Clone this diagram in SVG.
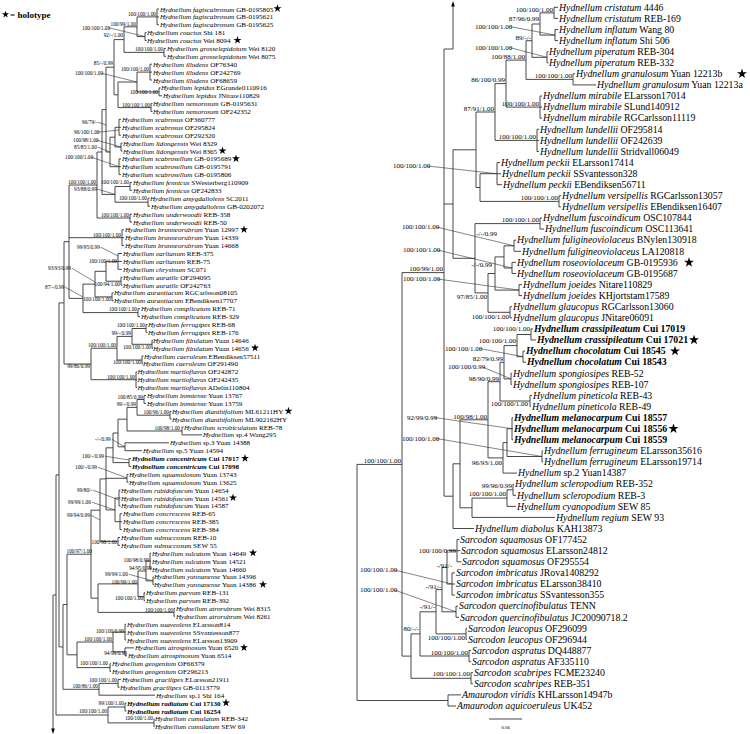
<svg xmlns="http://www.w3.org/2000/svg" xmlns:xlink="http://www.w3.org/1999/xlink" width="750" height="734" viewBox="0 0 750 734">
<style>
text{font-family:"Liberation Serif","Times New Roman",serif;fill:#000}
.tl{font-size:7.1px}
.tr{font-size:9.8px}
.i{font-style:italic}
.b{font-weight:bold}
.sl{font-size:5.3px;text-anchor:end}
.sls{font-size:5.3px}
.sr{font-size:7px;text-anchor:end}
.srs{font-size:7px}
.br{fill:none;stroke:#333;stroke-width:0.9}
.ld{fill:none;stroke:#333;stroke-width:0.6}
.st{fill:#000}
</style>
<defs>
<polygon id="star" points="0,-5 1.12,-1.55 4.76,-1.55 1.82,0.59 2.94,4.05 0,1.91 -2.94,4.05 -1.82,0.59 -4.76,-1.55 -1.12,-1.55"/>
</defs>
<rect width="750" height="734" fill="#fff"/>
<g id="legend">
<use xlink:href="#star" class="st" transform="translate(5.5 14.5) scale(0.75)"/>
<text x="10" y="17.5" class="b" font-size="9">= holotype</text>
</g>
<g id="connectors">
<path class="br" d="M157 9V24.8M157 9H159M157 16.9H159M157 24.8H159M145 32.7V40.5M145 32.7H146.5M145 40.5H146.5M137 16.9V36.6M137 16.9H157M137 36.6H145M164 48.4V56.3M164 48.4H166M164 56.3H166M124 26.8V52.4M124 26.8H137M124 52.4H164M150 64.2V80M150 64.2H152M150 72.1H152M150 80H152M159 87.9V95.8M159 87.9H160.5M159 95.8H162M137 72.1V91.9M137 72.1H150M137 91.9H159M151 103.6V111.5M151 103.6H152.5M151 111.5H152.5M118 82V107.6M118 82H137M118 107.6H151M114 39.6V94.8M114 39.6H124M114 94.8H118M119 119.4V135.2M119 119.4H121M119 127.3H121M119 135.2H121M121 143.1V151M121 143.1H122.5M121 151H122.5M115 127.3V147M115 127.3H119M115 147H121M119 158.9V174.6M119 158.9H121M119 166.7H121M119 174.6H121M110 137.2V166.7M110 137.2H115M110 166.7H119M106 67.2V152M106 67.2H114M106 152H110M130 182.5V190.4M130 182.5H132M130 190.4H132M148 198.3V206.2M148 198.3H149.5M148 206.2H150M115 186.5V202.2M115 186.5H130M115 202.2H148M102 109.6V194.4M102 109.6H106M102 194.4H115M130 214.1V222M130 214.1H132M130 222H132M97 152V218M97 152H102M97 218H130M122 229.8V245.6M122 229.8H124M122 237.7H124M122 245.6H124M118 253.5V269.3M118 253.5H122M118 261.4H122M118 269.3H122M121 277.2V285.1M121 277.2H122.5M121 285.1H122.5M106 261.4V281.2M106 261.4H118M106 281.2H121M112 292.9V300.8M112 292.9H113.5M112 300.8H113.5M95 271.3V296.9M95 271.3H106M95 296.9H112M138 308.7V316.6M138 308.7H140M138 316.6H140M83 284.1V312.6M83 284.1H95M83 312.6H138M69 185V298.4M69 185H97M69 237.7H122M69 298.4H83M146 324.5V332.4M146 324.5H147.5M146 332.4H147.5M152 340.3V348.2M152 340.3H153M152 348.2H153M132 328.5V344.3M132 328.5H146M132 344.3H152M142 356V363.9M142 356H143.5M142 363.9H143M117 336.4V360M117 336.4H132M117 360H142M136 371.8V387.6M136 371.8H137M136 379.7H137M136 387.6H137M91 348.2V379.7M91 348.2H117M91 379.7H136M64 241.7V364M64 241.7H69M64 364H91"/>
<path class="br" d="M144 395.5V403.4M144 395.5H146M144 403.4H146M170 411.3V419.1M170 411.3H171.5M170 419.1H171.5M137 399.5V415.2M137 399.5H144M137 415.2H170M182 427V434.9M182 427H183.5M182 434.9H202M127 407.4V431M127 407.4H137M127 431H182M125 442.8V450.7M125 442.8H169M125 450.7H142M118 419.2V446.8M118 419.2H127M118 446.8H125M129 458.6V466.5M129 458.6H131M129 466.5H131M113 433V462.6M113 433H118M113 462.6H129M127 474.4V482.2M127 474.4H128.5M127 482.2H128.5M119 490.1V505.9M119 490.1H120.5M119 498H120.5M119 505.9H120.5M120 513.8V529.6M120 513.8H122M120 521.7H122M120 529.6H122M115 498V521.7M115 498H119M115 521.7H120M106 447.8V509.9M106 447.8H113M106 478.3H127M106 509.9H115M118 537.5V545.3M118 537.5H120M118 545.3H120M100 478.9V541.4M100 478.9H106M100 541.4H118M150 553.2V569M150 553.2H151M150 561.1H151M150 569H151M153 576.9V584.8M153 576.9H153.8M153 584.8H153.8M146 561.1V580.9M146 561.1H150M146 580.9H153M144 592.7V600.6M144 592.7H145M144 600.6H145M138 571V596.7M138 571H146M138 596.7H144M174 608.4V616.3M174 608.4H175M174 616.3H175M98 583.9V612.4M98 583.9H138M98 612.4H174M91 510.2V598.2M91 510.2H100M91 598.2H98M125 624.2V640M125 624.2H126M125 632.1H126M125 640H126M125 647.9V655.8M125 647.9H134M125 655.8H127M113 632.1V651.9M113 632.1H125M113 651.9H125M110 663.7V671.5M110 663.7H111M110 671.5H111M77 642V667.6M77 642H113M77 667.6H110M67 554.2V654.8M67 554.2H91M67 654.8H77M118 679.4V687.3M118 679.4H121M118 687.3H119.5M99 683.4V695.2M99 683.4H118M99 695.2H155M63 604.5V689.3M63 604.5H67M63 689.3H99M125 703.1V711M125 703.1H126.5M125 711H126.5M154 718.9V726.8M154 718.9H154.5M154 726.8H154.5M108 707V722.9M108 707H125M108 722.9H154M59 302.9V646.9M59 302.9H64M59 646.9H63M56 474.9V715M56 474.9H59M56 715H108M56 595H53V729"/>
<polygon class="st" points="53,734 51.2,728.5 54.8,728.5"/>
<path class="br" d="M554 7.3V18.4M554 7.3H558M554 18.4H558M555 29.5V40.6M555 29.5H558M555 40.6H558M540 12.9V35.1M540 12.9H554M540 35.1H555M547 51.7V62.8M547 51.7H548.5M547 62.8H548.5M532 24V57.3M532 24H540M532 57.3H547M573 73.8V84.9M573 73.8H575M573 84.9H596M526 40.7V79.4M526 40.7H532M526 79.4H573M540 96V118.2M540 96H542M540 107.1H542M540 118.2H542M506 60.1V107.1M506 60.1H526M506 107.1H540M537 129.3V151.5M537 129.3H539M537 140.4H539M537 151.5H539M495 83.6V140.4M495 83.6H506M495 140.4H537M497 162.6V184.7M497 162.6H500M497 173.7H501M497 184.7H502M559 195.8V206.9M559 195.8H561M559 206.9H561M480 173.7V201.4M480 173.7H497M480 201.4H559M476 112V187.5M476 112H495M476 187.5H480M540 218V229.1M540 218H542M540 229.1H544M514 240.2V251.3M514 240.2H516M514 251.3H521M512 262.4V273.5M512 262.4H516M512 273.5H516M504 245.8V268M504 245.8H514M504 268H512M519 284.6V295.6M519 284.6H522M519 295.6H522M495 256.9V290.1M495 256.9H504M495 290.1H519M510 306.7V317.8M510 306.7H512M510 317.8H512M488 273.5V312.3M488 273.5H495M488 312.3H510M475 223.6V292.9M475 223.6H540M475 292.9H488M453 149.8V258.3M453 149.8H476M453 258.3H475"/>
<path class="br" d="M531 328.9V340M531 328.9H533M531 340H536M523 351.1V362.2M523 351.1H525M523 362.2H526M517 334.5V356.7M517 334.5H531M517 356.7H523M511 373.3V384.4M511 373.3H512M511 384.4H512M504 345.6V378.9M504 345.6H517M504 378.9H511M530 395.5V406.5M530 395.5H532M530 406.5H531M500 362.3V401M500 362.3H504M500 401H530M512 417.6V439.8M512 417.6H513M512 428.7H513M512 439.8H513M542 450.9V462M542 450.9H543M542 462H543M507 428.7V456.5M507 428.7H512M507 456.5H542M503 442.6V473.1M503 442.6H507M503 473.1H517M488 381.7V457.9M488 381.7H500M488 457.9H503M513 484.2V495.3M513 484.2H514M513 495.3H516M507 489.8V506.4M507 489.8H513M507 506.4H516M472 498.1V517.4M472 498.1H507M472 517.4H555M460 419.8V507.8M460 419.8H488M460 507.8H472M453 463.8V528.5M453 463.8H460M453 528.5H474M444 49V496.2M444 49H453M444 204H453M444 496.2H453M453 49V6"/>
<polygon class="st" points="453,1 451.2,6.5 454.8,6.5"/>
<path class="br" d="M457 539.6V561.8M457 539.6H459.5M457 550.7H460.5M457 561.8H461.5M452 572.9V595.1M452 572.9H455M452 584H455M452 595.1H455M447 550.7V584M447 550.7H457M447 584H452M456 606.2V617.3M456 606.2H458M456 617.3H459M442 567.4V611.8M442 567.4H447M442 611.8H456M466 628.3V639.4M466 628.3H467M466 639.4H467M436 589.6V633.9M436 589.6H442M436 633.9H466M469 650.5V661.6M469 650.5H471M469 661.6H471M420 611.8V656M420 611.8H436M420 656H469M471 672.7V683.8M471 672.7H473M471 683.8H473M411 633.9V678.3M411 633.9H420M411 678.3H471M402 272.6V656.1M402 272.6H444M402 656.1H411M448 694.9V706M448 694.9H461M448 706H456M357 464.4V700.5M357 464.4H402M357 700.5H448M489 719H522"/>
<path class="ld" d="M108.5 27.7L145 36.6M101.5 73.2L137 82M97.8 132.2L119 130M98 122.2L106 125M96.8 140.2L121 147M97.8 147.2L110 152M91.5 157.2L119 166.7M97.8 189.2L115 194.4M100.8 247.2L118 256M71.8 268.2L95 282M65.3 287.2L83 297M111.8 439.2L125 447M105 456.2L129 460M98 467.2L127 478M93.3 490.2L119 500M91.8 502.2L115 510M90.8 515.2L100 520M128.8 574.2L153 580.9"/>
<path class="ld" d="M509.5 26.5L555 35.1M509.5 47.5L547 57.3M427.5 166L497 173.7M436.5 227L514 245.8M437.5 250L512 268M437.5 279L519 290.1M479.5 348.5L523 356.7M482.5 367L511 378.9M434.5 417.5L512 428.7M436.5 438.5L542 456.5M394.5 570L452 584M394.5 590L456 611.8"/>
</g>
<g id="support-left">
<text class="sl" x="156" y="15.6">100/100/1.00</text>
<text class="sls" x="82" y="29.5">100/100/1.00</text>
<text class="sl" x="136" y="25.8">100/99/1.00</text>
<text class="sl" x="163" y="51.4">100/100/1.00</text>
<text class="sl" x="123" y="37">92/-/1.00</text>
<text class="sl" x="149" y="71.1">100/100/1.00</text>
<text class="sl" x="158" y="93.5">100/100/1.00</text>
<text class="sls" x="75" y="75">100/100/1.00</text>
<text class="sl" x="150" y="106.6">100/100/1.00</text>
<text class="sl" x="113" y="65">85/-/0.99</text>
<text class="sls" x="74" y="134">96/100/1.00</text>
<text class="sls" x="82" y="124">96/79/-</text>
<text class="sls" x="73" y="142">100/98/1.00</text>
<text class="sls" x="74" y="149">85/85/1.00</text>
<text class="sls" x="65" y="159">100/100/1.00</text>
<text class="sl" x="129" y="184">100/100/1.00</text>
<text class="sl" x="96" y="184">100/100/1.00</text>
<text class="sls" x="74" y="191">93/88/0.99</text>
<text class="sl" x="147" y="200">100/100/1.00</text>
<text class="sl" x="129" y="216.5">100/100/1.00</text>
<text class="sl" x="121" y="236.5">100/100/1.00</text>
<text class="sls" x="77" y="249">99/95/0.99</text>
<text class="sl" x="117" y="263">100/100/1.00</text>
<text class="sl" x="120" y="285.5">100/94/1.00</text>
<text class="sls" x="48" y="270">93/93/0.99</text>
<text class="sl" x="111" y="301">100/100/1.00</text>
<text class="sls" x="45" y="289">87/-/0.99</text>
<text class="sl" x="137" y="311">100/100/1.00</text>
<text class="sl" x="145" y="327">100/100/1.00</text>
<text class="sl" x="131" y="335">99/-/0.99</text>
<text class="sl" x="151" y="349">100/100/1.00</text>
<text class="sl" x="116" y="347">100/100/1.00</text>
<text class="sl" x="141" y="364">100/100/1.00</text>
<text class="sl" x="90" y="368">99/86/0.99</text>
<text class="sl" x="135" y="379">100/100/1.00</text>
<text class="sl" x="143" y="399">100/85/0.99</text>
<text class="sl" x="136" y="406">99/-/0.99</text>
<text class="sl" x="169" y="414">100/96/1.00</text>
<text class="sl" x="180" y="430">100/98/1.00</text>
<text class="sls" x="95" y="441">-/-/0.99</text>
<text class="sls" x="82" y="458">100/-/0.99</text>
<text class="sls" x="75" y="469">100/-/0.99</text>
<text class="sls" x="77" y="492">99/80/-</text>
<text class="sls" x="68" y="504">99/99/1.00</text>
<text class="sls" x="67" y="517">99/94/0.99</text>
<text class="sl" x="117" y="544">100/98/1.00</text>
<text class="sl" x="92" y="553">100/97/1.00</text>
<text class="sl" x="149" y="562">100/98/0.99</text>
<text class="sl" x="152" y="570">94/95/0.99</text>
<text class="sls" x="105" y="576">99/99/1.00</text>
<text class="sl" x="137" y="584">100/99/1.00</text>
<text class="sl" x="143" y="600">100/100/1.00</text>
<text class="sl" x="173" y="612">100/100/1.00</text>
<text class="sl" x="124" y="633">100/100/0.99</text>
<text class="sl" x="112" y="641">100/100/1.00</text>
<text class="sl" x="127" y="655">94/99/0.99</text>
<text class="sl" x="108" y="665">100/100/1.00</text>
<text class="sl" x="117" y="682">100/100/1.00</text>
<text class="sl" x="98" y="688">100/86/1.00</text>
<text class="sl" x="124" y="705">99/100/1.00</text>
<text class="sl" x="107" y="713">100/100/1.00</text>
<text class="sl" x="153" y="720">100/100/1.00</text>
</g>
<g id="support-right">
<text class="sr" x="553" y="11.7">100/100/1.00</text>
<text class="srs" x="475" y="28.5">100/100/1.00</text>
<text class="sr" x="539" y="21.3">87/96/0.99</text>
<text class="srs" x="475" y="49.5">100/100/1.00</text>
<text class="sr" x="531" y="39.5">89/-/-</text>
<text class="sr" x="525" y="59">100/88/1.00</text>
<text class="sr" x="572" y="78.2">100/100/1.00</text>
<text class="sr" x="505" y="82.4">86/100/0.99</text>
<text class="sr" x="539" y="106">100/100/1.00</text>
<text class="sr" x="494" y="110.8">87/91/1.00</text>
<text class="sr" x="536" y="139.2">100/100/1.00</text>
<text class="srs" x="393" y="168">100/100/1.00</text>
<text class="sr" x="558" y="200.2">100/100/1.00</text>
<text class="sr" x="539" y="222.4">100/100/1.00</text>
<text class="sr" x="497" y="235.5">-/-/0.99</text>
<text class="srs" x="402" y="229">100/100/1.00</text>
<text class="srs" x="403" y="252">100/100/1.00</text>
<text class="sr" x="492" y="267">-/-/0.99</text>
<text class="sr" x="443" y="271.4">100/99/1.00</text>
<text class="srs" x="403" y="281">100/100/1.00</text>
<text class="sr" x="487" y="298.5">97/85/1.00</text>
<text class="sr" x="509" y="318.5">100/100/1.00</text>
<text class="sr" x="530" y="331">100/100/1.00</text>
<text class="sr" x="516" y="343">100/100/1.00</text>
<text class="srs" x="445" y="350.5">100/100/1.00</text>
<text class="sr" x="503" y="361">82/79/0.99</text>
<text class="srs" x="448" y="369">100/100/0.99</text>
<text class="sr" x="499" y="380.5">98/90/0.99</text>
<text class="sr" x="528" y="405.5">100/100/1.00</text>
<text class="sr" x="487" y="418.5">100/98/1.00</text>
<text class="srs" x="407" y="419.5">92/99/0.99</text>
<text class="srs" x="402" y="440.5">100/100/1.00</text>
<text class="sr" x="502" y="464.5">96/93/1.00</text>
<text class="sr" x="401" y="463">100/100/1.00</text>
<text class="sr" x="512" y="487.5">99/96/0.99</text>
<text class="sr" x="506" y="495.5">100/100/1.00</text>
<text class="sr" x="456" y="552.5">100/100/0.99</text>
<text class="sr" x="452" y="568">-/91/-</text>
<text class="srs" x="360" y="572">100/100/1.00</text>
<text class="sr" x="441" y="589">-/91/-</text>
<text class="srs" x="360" y="592">100/100/1.00</text>
<text class="sr" x="435" y="609">-/91/-</text>
<text class="sr" x="419" y="631">80/-/-</text>
<text class="sr" x="465" y="639.5">100/100/1.00</text>
<text class="sr" x="468" y="654.5">100/100/1.00</text>
<text class="sr" x="470" y="676">100/100/1.00</text>
<text x="505.5" y="729" font-size="5" text-anchor="middle">0.06</text>
</g>
<g id="l1"><text class="tl" x="160" y="11.5"><tspan class="i">Hydnellum fagiscabrosum</tspan> GB-0195805</text><use xlink:href="#star" class="st" transform="translate(277.5 8.5) scale(0.84)"/></g>
<g id="l2"><text class="tl" x="160" y="19.4"><tspan class="i">Hydnellum fagiscabrosum</tspan> GB-0195621</text></g>
<g id="l3"><text class="tl" x="160" y="27.3"><tspan class="i">Hydnellum fagiscabrosum</tspan> GB-0195625</text></g>
<g id="l4"><text class="tl" x="147" y="35.2"><tspan class="i">Hydnellum coactus</tspan> Shi 181</text></g>
<g id="l5"><text class="tl" x="147" y="43"><tspan class="i">Hydnellum coactus</tspan> Wei 8094</text><use xlink:href="#star" class="st" transform="translate(237.5 40.2) scale(0.84)"/></g>
<g id="l6"><text class="tl" x="167" y="50.9"><tspan class="i">Hydnellum grosselepidotum</tspan> Wei 8120</text></g>
<g id="l7"><text class="tl" x="167" y="58.8"><tspan class="i">Hydnellum grosselepidotum</tspan> Wei 8075</text></g>
<g id="l8"><text class="tl" x="153" y="66.7"><tspan class="i">Hydnellum illudens</tspan> OF76340</text></g>
<g id="l9"><text class="tl" x="153" y="74.6"><tspan class="i">Hydnellum illudens</tspan> OF242769</text></g>
<g id="l10"><text class="tl" x="153" y="82.5"><tspan class="i">Hydnellum illudens</tspan> OF68659</text></g>
<g id="l11"><text class="tl" x="161" y="90.4"><tspan class="i">Hydnellum lepidus</tspan> EGrundell110916</text></g>
<g id="l12"><text class="tl" x="163" y="98.3"><tspan class="i">Hydnellum lepidus</tspan> JNitare110829</text></g>
<g id="l13"><text class="tl" x="153" y="106.1"><tspan class="i">Hydnellum nemorosum</tspan> GB-0195631</text></g>
<g id="l14"><text class="tl" x="153" y="114"><tspan class="i">Hydnellum nemorosum</tspan> OF242352</text></g>
<g id="l15"><text class="tl" x="122" y="121.9"><tspan class="i">Hydnellum scabrosus</tspan> OF360777</text></g>
<g id="l16"><text class="tl" x="122" y="129.8"><tspan class="i">Hydnellum scabrosus</tspan> OF295824</text></g>
<g id="l17"><text class="tl" x="122" y="137.7"><tspan class="i">Hydnellum scabrosus</tspan> OF292320</text></g>
<g id="l18"><text class="tl" x="123" y="145.6"><tspan class="i">Hydnellum lidongensis</tspan> Wei 8329</text></g>
<g id="l19"><text class="tl" x="123" y="153.5"><tspan class="i">Hydnellum lidongensis</tspan> Wei 8365</text><use xlink:href="#star" class="st" transform="translate(222.5 150.7) scale(0.84)"/></g>
<g id="l20"><text class="tl" x="122" y="161.4"><tspan class="i">Hydnellum scabrosellum</tspan> GB-0195689</text><use xlink:href="#star" class="st" transform="translate(236 158.6) scale(0.84)"/></g>
<g id="l21"><text class="tl" x="122" y="169.2"><tspan class="i">Hydnellum scabrosellum</tspan> GB-0195791</text></g>
<g id="l22"><text class="tl" x="122" y="177.1"><tspan class="i">Hydnellum scabrosellum</tspan> GB-0195806</text></g>
<g id="l23"><text class="tl" x="133" y="185"><tspan class="i">Hydnellum fennicus</tspan> SWesterberg110909</text></g>
<g id="l24"><text class="tl" x="133" y="192.9"><tspan class="i">Hydnellum fennicus</tspan> OF242833</text></g>
<g id="l25"><text class="tl" x="150" y="200.8"><tspan class="i">Hydnellum amygdaliolens</tspan> SC2011</text></g>
<g id="l26"><text class="tl" x="151" y="208.7"><tspan class="i">Hydnellum amygdaliolens</tspan> GB-0202072</text></g>
<g id="l27"><text class="tl" x="133" y="216.6"><tspan class="i">Hydnellum underwoodii</tspan> REB-358</text></g>
<g id="l28"><text class="tl" x="133" y="224.5"><tspan class="i">Hydnellum underwoodii</tspan> REB-50</text></g>
<g id="l29"><text class="tl" x="125" y="232.3"><tspan class="i">Hydnellum brunneorubrum</tspan> Yuan 12997</text><use xlink:href="#star" class="st" transform="translate(244 229.5) scale(0.84)"/></g>
<g id="l30"><text class="tl" x="125" y="240.2"><tspan class="i">Hydnellum brunneorubrum</tspan> Yuan 14339</text></g>
<g id="l31"><text class="tl" x="125" y="248.1"><tspan class="i">Hydnellum brunneorubrum</tspan> Yuan 14668</text></g>
<g id="l32"><text class="tl" x="123" y="256"><tspan class="i">Hydnellum earlianum</tspan> REB-375</text></g>
<g id="l33"><text class="tl" x="123" y="263.9"><tspan class="i">Hydnellum earlianum</tspan> REB-75</text></g>
<g id="l34"><text class="tl" x="123" y="271.8"><tspan class="i">Hydnellum chrysinum</tspan> SC071</text></g>
<g id="l35"><text class="tl" x="123" y="279.7"><tspan class="i">Hydnellum auratile</tspan> OF294095</text></g>
<g id="l36"><text class="tl" x="123" y="287.6"><tspan class="i">Hydnellum auratile</tspan> OF242763</text></g>
<g id="l37"><text class="tl" x="114" y="295.4"><tspan class="i">Hydnellum aurantiacum</tspan> RGCarlsson08105</text></g>
<g id="l38"><text class="tl" x="114" y="303.3"><tspan class="i">Hydnellum aurantiacum</tspan> EBendiksen17707</text></g>
<g id="l39"><text class="tl" x="141" y="311.2"><tspan class="i">Hydnellum complicatum</tspan> REB-71</text></g>
<g id="l40"><text class="tl" x="141" y="319.1"><tspan class="i">Hydnellum complicatum</tspan> REB-329</text></g>
<g id="l41"><text class="tl" x="148" y="327"><tspan class="i">Hydnellum ferrugipes</tspan> REB-68</text></g>
<g id="l42"><text class="tl" x="148" y="334.9"><tspan class="i">Hydnellum ferrugipes</tspan> REB-176</text></g>
<g id="l43"><text class="tl" x="153" y="342.8"><tspan class="i">Hydnellum fibulatum</tspan> Yuan 14646</text></g>
<g id="l44"><text class="tl" x="153" y="350.7"><tspan class="i">Hydnellum fibulatum</tspan> Yuan 14656</text><use xlink:href="#star" class="st" transform="translate(255 347.9) scale(0.84)"/></g>
<g id="l45"><text class="tl" x="144" y="358.5"><tspan class="i">Hydnellum caeruleum</tspan> EBendiksen57511</text></g>
<g id="l46"><text class="tl" x="143" y="366.4"><tspan class="i">Hydnellum caeruleum</tspan> OF291490</text></g>
<g id="l47"><text class="tl" x="137.5" y="374.3"><tspan class="i">Hydnellum martioflavus</tspan> OF242872</text></g>
<g id="l48"><text class="tl" x="137.5" y="382.2"><tspan class="i">Hydnellum martioflavus</tspan> OF242435</text></g>
<g id="l49"><text class="tl" x="137.5" y="390.1"><tspan class="i">Hydnellum martioflavus</tspan> ADelin110804</text></g>
<g id="l50"><text class="tl" x="147" y="398"><tspan class="i">Hydnellum bomiense</tspan> Yuan 13767</text></g>
<g id="l51"><text class="tl" x="147" y="405.9"><tspan class="i">Hydnellum bomiense</tspan> Yuan 13759</text></g>
<g id="l52"><text class="tl" x="172" y="413.8"><tspan class="i">Hydnellum dianthifolium</tspan> ML61211HY</text><use xlink:href="#star" class="st" transform="translate(288.5 411) scale(0.84)"/></g>
<g id="l53"><text class="tl" x="172" y="421.6"><tspan class="i">Hydnellum dianthifolium</tspan> ML902162HY</text></g>
<g id="l54"><text class="tl" x="184" y="429.5"><tspan class="i">Hydnellum scrobiculatum</tspan> REB-78</text></g>
<g id="l55"><text class="tl" x="203" y="437.4"><tspan class="i">Hydnellum</tspan> sp.4 Wang295</text></g>
<g id="l56"><text class="tl" x="170" y="445.3"><tspan class="i">Hydnellum</tspan> sp.3 Yuan 14388</text></g>
<g id="l57"><text class="tl" x="143" y="453.2"><tspan class="i">Hydnellum</tspan> sp.5 Yuan 14594</text></g>
<g id="l58"><text class="tl b" x="132" y="461.1"><tspan class="i">Hydnellum concentricum</tspan> Cui 17017</text><use xlink:href="#star" class="st" transform="translate(245 458.3) scale(0.84)"/></g>
<g id="l59"><text class="tl b" x="132" y="469"><tspan class="i">Hydnellum concentricum</tspan> Cui 17098</text></g>
<g id="l60"><text class="tl" x="129" y="476.9"><tspan class="i">Hydnellum squamulosum</tspan> Yuan 13743</text></g>
<g id="l61"><text class="tl" x="129" y="484.7"><tspan class="i">Hydnellum squamulosum</tspan> Yuan 13625</text></g>
<g id="l62"><text class="tl" x="121" y="492.6"><tspan class="i">Hydnellum rubidofuscum</tspan> Yuan 14654</text></g>
<g id="l63"><text class="tl" x="121" y="500.5"><tspan class="i">Hydnellum rubidofuscum</tspan> Yuan 14561</text><use xlink:href="#star" class="st" transform="translate(233 497.7) scale(0.84)"/></g>
<g id="l64"><text class="tl" x="121" y="508.4"><tspan class="i">Hydnellum rubidofuscum</tspan> Yuan 14587</text></g>
<g id="l65"><text class="tl" x="123" y="516.3"><tspan class="i">Hydnellum concrescens</tspan> REB-65</text></g>
<g id="l66"><text class="tl" x="123" y="524.2"><tspan class="i">Hydnellum concrescens</tspan> REB-385</text></g>
<g id="l67"><text class="tl" x="123" y="532.1"><tspan class="i">Hydnellum concrescens</tspan> REB-384</text></g>
<g id="l68"><text class="tl" x="121" y="540"><tspan class="i">Hydnellum subsuccosum</tspan> REB-10</text></g>
<g id="l69"><text class="tl" x="121" y="547.8"><tspan class="i">Hydnellum subsuccosum</tspan> SEW 55</text></g>
<g id="l70"><text class="tl" x="152" y="555.7"><tspan class="i">Hydnellum sulcatum</tspan> Yuan 14649</text><use xlink:href="#star" class="st" transform="translate(253 552.9) scale(0.84)"/></g>
<g id="l71"><text class="tl" x="152" y="563.6"><tspan class="i">Hydnellum sulcatum</tspan> Yuan 14521</text></g>
<g id="l72"><text class="tl" x="152" y="571.5"><tspan class="i">Hydnellum sulcatum</tspan> Yuan 14660</text></g>
<g id="l73"><text class="tl" x="154" y="579.4"><tspan class="i">Hydnellum yunnanense</tspan> Yuan 14396</text></g>
<g id="l74"><text class="tl" x="154" y="587.3"><tspan class="i">Hydnellum yunnanense</tspan> Yuan 14386</text><use xlink:href="#star" class="st" transform="translate(263 584.5) scale(0.84)"/></g>
<g id="l75"><text class="tl" x="146" y="595.2"><tspan class="i">Hydnellum parvum</tspan> REB-131</text></g>
<g id="l76"><text class="tl" x="146" y="603.1"><tspan class="i">Hydnellum parvum</tspan> REB-392</text></g>
<g id="l77"><text class="tl" x="176" y="610.9"><tspan class="i">Hydnellum atrorubrum</tspan> Wei 8315</text></g>
<g id="l78"><text class="tl" x="176" y="618.8"><tspan class="i">Hydnellum atrorubrum</tspan> Wei 8261</text></g>
<g id="l79"><text class="tl" x="127" y="626.7"><tspan class="i">Hydnellum suaveolens</tspan> ELarsson814</text></g>
<g id="l80"><text class="tl" x="127" y="634.6"><tspan class="i">Hydnellum suaveolens</tspan> SSvantesson877</text></g>
<g id="l81"><text class="tl" x="127" y="642.5"><tspan class="i">Hydnellum suaveolens</tspan> ELarsson13909</text></g>
<g id="l82"><text class="tl" x="135" y="650.4"><tspan class="i">Hydnellum atrospinosum</tspan> Yuan 6520</text><use xlink:href="#star" class="st" transform="translate(244 647.6) scale(0.84)"/></g>
<g id="l83"><text class="tl" x="128" y="658.3"><tspan class="i">Hydnellum atrospinosum</tspan> Yuan 6514</text></g>
<g id="l84"><text class="tl" x="112" y="666.2"><tspan class="i">Hydnellum geogenium</tspan> OF66379</text></g>
<g id="l85"><text class="tl" x="112" y="674"><tspan class="i">Hydnellum geogenium</tspan> OF296213</text></g>
<g id="l86"><text class="tl" x="122" y="681.9"><tspan class="i">Hydnellum gracilipes</tspan> ELarsson21911</text></g>
<g id="l87"><text class="tl" x="120" y="689.8"><tspan class="i">Hydnellum gracilipes</tspan> GB-0113779</text></g>
<g id="l88"><text class="tl" x="156" y="697.7"><tspan class="i">Hydnellum</tspan> sp.1 Shi 164</text></g>
<g id="l89"><text class="tl b" x="127" y="705.6"><tspan class="i">Hydnellum radiatum</tspan> Cui 17130</text><use xlink:href="#star" class="st" transform="translate(226 702.8) scale(0.84)"/></g>
<g id="l90"><text class="tl b" x="127" y="713.5"><tspan class="i">Hydnellum radiatum</tspan> Cui 16254</text></g>
<g id="l91"><text class="tl" x="155" y="721.4"><tspan class="i">Hydnellum cumulatum</tspan> REB-342</text></g>
<g id="l92"><text class="tl" x="155" y="729.3"><tspan class="i">Hydnellum cumulatum</tspan> SEW 69</text></g>
<g id="r1"><text class="tr" x="559" y="10.5"><tspan class="i">Hydnellum cristatum</tspan> 4446</text></g>
<g id="r2"><text class="tr" x="559" y="21.6"><tspan class="i">Hydnellum cristatum</tspan> REB-169</text></g>
<g id="r3"><text class="tr" x="559" y="32.7"><tspan class="i">Hydnellum inflatum</tspan> Wang 80</text></g>
<g id="r4"><text class="tr" x="559" y="43.8"><tspan class="i">Hydnellum inflatum</tspan> Shi 506</text></g>
<g id="r5"><text class="tr" x="549" y="54.9"><tspan class="i">Hydnellum piperatum</tspan> REB-304</text></g>
<g id="r6"><text class="tr" x="549" y="66"><tspan class="i">Hydnellum piperatum</tspan> REB-332</text></g>
<g id="r7"><text class="tr" x="576" y="77"><tspan class="i">Hydnellum granulosum</tspan> Yuan 12213b</text><use xlink:href="#star" class="st" transform="translate(742 73.8) scale(1.05)"/></g>
<g id="r8"><text class="tr" x="597" y="88.1"><tspan class="i">Hydnellum granulosum</tspan> Yuan 12213a</text></g>
<g id="r9"><text class="tr" x="543" y="99.2"><tspan class="i">Hydnellum mirabile</tspan> ELarsson17014</text></g>
<g id="r10"><text class="tr" x="543" y="110.3"><tspan class="i">Hydnellum mirabile</tspan> SLund140912</text></g>
<g id="r11"><text class="tr" x="543" y="121.4"><tspan class="i">Hydnellum mirabile</tspan> RGCarlsson11119</text></g>
<g id="r12"><text class="tr" x="540" y="132.5"><tspan class="i">Hydnellum lundellii</tspan> OF295814</text></g>
<g id="r13"><text class="tr" x="540" y="143.6"><tspan class="i">Hydnellum lundellii</tspan> OF242639</text></g>
<g id="r14"><text class="tr" x="540" y="154.7"><tspan class="i">Hydnellum lundellii</tspan> Stridvall06049</text></g>
<g id="r15"><text class="tr" x="501" y="165.8"><tspan class="i">Hydnellum peckii</tspan> ELarsson17414</text></g>
<g id="r16"><text class="tr" x="502" y="176.9"><tspan class="i">Hydnellum peckii</tspan> SSvantesson328</text></g>
<g id="r17"><text class="tr" x="503" y="187.9"><tspan class="i">Hydnellum peckii</tspan> EBendiksen56711</text></g>
<g id="r18"><text class="tr" x="562" y="199"><tspan class="i">Hydnellum versipellis</tspan> RGCarlsson13057</text></g>
<g id="r19"><text class="tr" x="562" y="210.1"><tspan class="i">Hydnellum versipellis</tspan> EBendiksen16407</text></g>
<g id="r20"><text class="tr" x="543" y="221.2"><tspan class="i">Hydnellum fuscoindicum</tspan> OSC107844</text></g>
<g id="r21"><text class="tr" x="545" y="232.3"><tspan class="i">Hydnellum fuscoindicum</tspan> OSC113641</text></g>
<g id="r22"><text class="tr" x="517" y="243.4"><tspan class="i">Hydnellum fuligineoviolaceus</tspan> BNylen130918</text></g>
<g id="r23"><text class="tr" x="522" y="254.5"><tspan class="i">Hydnellum fuligineoviolaceus</tspan> LA120818</text></g>
<g id="r24"><text class="tr" x="517" y="265.6"><tspan class="i">Hydnellum roseoviolaceum</tspan> GB-0195936</text><use xlink:href="#star" class="st" transform="translate(689 262.4) scale(1.05)"/></g>
<g id="r25"><text class="tr" x="517" y="276.7"><tspan class="i">Hydnellum roseoviolaceum</tspan> GB-0195687</text></g>
<g id="r26"><text class="tr" x="523" y="287.8"><tspan class="i">Hydnellum joeides</tspan> Nitare110829</text></g>
<g id="r27"><text class="tr" x="523" y="298.8"><tspan class="i">Hydnellum joeides</tspan> KHjortstam17589</text></g>
<g id="r28"><text class="tr" x="513" y="309.9"><tspan class="i">Hydnellum glaucopus</tspan> RGCarlsson13060</text></g>
<g id="r29"><text class="tr" x="513" y="321"><tspan class="i">Hydnellum glaucopus</tspan> JNitare06091</text></g>
<g id="r30"><text class="tr b" x="534" y="332.1"><tspan class="i">Hydnellum crassipileatum</tspan> Cui 17019</text></g>
<g id="r31"><text class="tr b" x="537" y="343.2"><tspan class="i">Hydnellum crassipileatum</tspan> Cui 17021</text><use xlink:href="#star" class="st" transform="translate(694 340) scale(1.05)"/></g>
<g id="r32"><text class="tr b" x="526" y="354.3"><tspan class="i">Hydnellum chocolatum</tspan> Cui 18545</text><use xlink:href="#star" class="st" transform="translate(675 351.1) scale(1.05)"/></g>
<g id="r33"><text class="tr b" x="527" y="365.4"><tspan class="i">Hydnellum chocolatum</tspan> Cui 18543</text></g>
<g id="r34"><text class="tr" x="513" y="376.5"><tspan class="i">Hydnellum spongiosipes</tspan> REB-52</text></g>
<g id="r35"><text class="tr" x="513" y="387.6"><tspan class="i">Hydnellum spongiosipes</tspan> REB-107</text></g>
<g id="r36"><text class="tr" x="533" y="398.7"><tspan class="i">Hydnellum pineticola</tspan> REB-43</text></g>
<g id="r37"><text class="tr" x="532" y="409.7"><tspan class="i">Hydnellum pineticola</tspan> REB-49</text></g>
<g id="r38"><text class="tr b" x="514" y="420.8"><tspan class="i">Hydnellum melanocarpum</tspan> Cui 18557</text></g>
<g id="r39"><text class="tr b" x="514" y="431.9"><tspan class="i">Hydnellum melanocarpum</tspan> Cui 18556</text><use xlink:href="#star" class="st" transform="translate(673.5 428.7) scale(1.05)"/></g>
<g id="r40"><text class="tr b" x="514" y="443"><tspan class="i">Hydnellum melanocarpum</tspan> Cui 18559</text></g>
<g id="r41"><text class="tr" x="544" y="454.1"><tspan class="i">Hydnellum ferrugineum</tspan> ELarsson35616</text></g>
<g id="r42"><text class="tr" x="544" y="465.2"><tspan class="i">Hydnellum ferrugineum</tspan> ELarsson19714</text></g>
<g id="r43"><text class="tr" x="518" y="476.3"><tspan class="i">Hydnellum</tspan> sp.2 Yuan14387</text></g>
<g id="r44"><text class="tr" x="515" y="487.4"><tspan class="i">Hydnellum scleropodium</tspan> REB-352</text></g>
<g id="r45"><text class="tr" x="517" y="498.5"><tspan class="i">Hydnellum scleropodium</tspan> REB-3</text></g>
<g id="r46"><text class="tr" x="517" y="509.6"><tspan class="i">Hydnellum cyanopodium</tspan> SEW 85</text></g>
<g id="r47"><text class="tr" x="556" y="520.6"><tspan class="i">Hydnellum regium</tspan> SEW 93</text></g>
<g id="r48"><text class="tr" x="475" y="531.7"><tspan class="i">Hydnellum diabolus</tspan> KAH13873</text></g>
<g id="r49"><text class="tr" x="460" y="542.8"><tspan class="i">Sarcodon squamosus</tspan> OF177452</text></g>
<g id="r50"><text class="tr" x="461" y="553.9"><tspan class="i">Sarcodon squamosus</tspan> ELarsson24812</text></g>
<g id="r51"><text class="tr" x="462" y="565"><tspan class="i">Sarcodon squamosus</tspan> OF295554</text></g>
<g id="r52"><text class="tr" x="456" y="576.1"><tspan class="i">Sarcodon imbricatus</tspan> JRova1408292</text></g>
<g id="r53"><text class="tr" x="456" y="587.2"><tspan class="i">Sarcodon imbricatus</tspan> ELarsson38410</text></g>
<g id="r54"><text class="tr" x="456" y="598.3"><tspan class="i">Sarcodon imbricatus</tspan> SSvantesson355</text></g>
<g id="r55"><text class="tr" x="459" y="609.4"><tspan class="i">Sarcodon quercinofibulatus</tspan> TENN</text></g>
<g id="r56"><text class="tr" x="460" y="620.5"><tspan class="i">Sarcodon quercinofibulatus</tspan> JC20090718.2</text></g>
<g id="r57"><text class="tr" x="468" y="631.5"><tspan class="i">Sarcodon leucopus</tspan> OF296099</text></g>
<g id="r58"><text class="tr" x="468" y="642.6"><tspan class="i">Sarcodon leucopus</tspan> OF296944</text></g>
<g id="r59"><text class="tr" x="472" y="653.7"><tspan class="i">Sarcodon aspratus</tspan> DQ448877</text></g>
<g id="r60"><text class="tr" x="472" y="664.8"><tspan class="i">Sarcodon aspratus</tspan> AF335110</text></g>
<g id="r61"><text class="tr" x="474" y="675.9"><tspan class="i">Sarcodon scabripes</tspan> FCME23240</text></g>
<g id="r62"><text class="tr" x="474" y="687"><tspan class="i">Sarcodon scabripes</tspan> REB-351</text></g>
<g id="r63"><text class="tr" x="462" y="698.1"><tspan class="i">Amaurodon viridis</tspan> KHLarsson14947b</text></g>
<g id="r64"><text class="tr" x="457" y="709.2"><tspan class="i">Amaurodon aquicoeruleus</tspan> UK452</text></g>
</svg>
